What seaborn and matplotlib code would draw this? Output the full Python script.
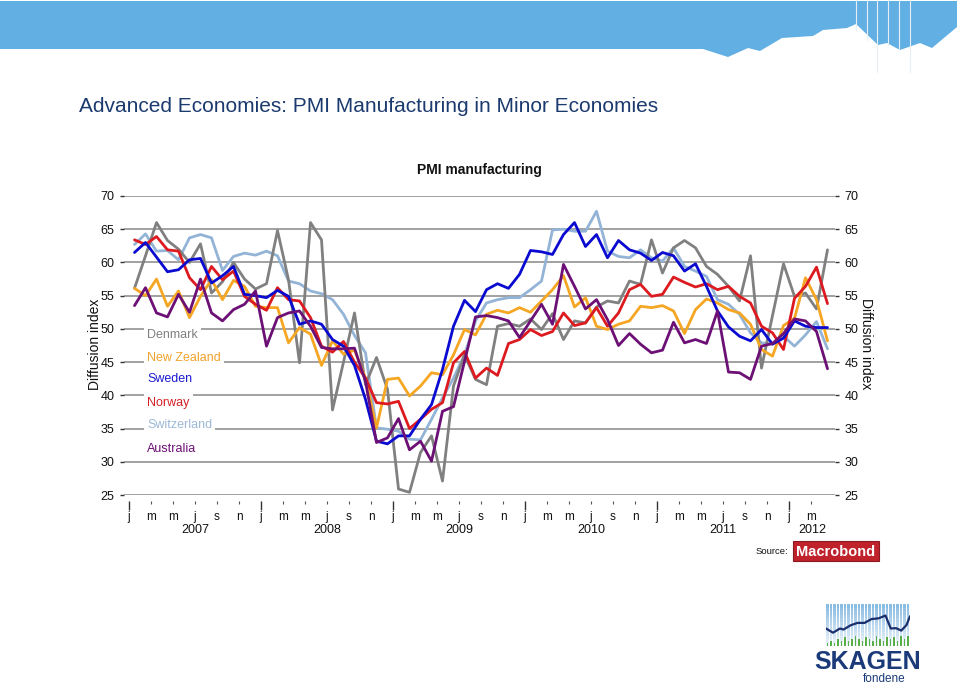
import numpy as np
import pandas as pd
import matplotlib
matplotlib.use("Agg")
import matplotlib.pyplot as plt
import seaborn as sns
from matplotlib.patches import Polygon, Rectangle

# ---------------- data (monthly, Jan 2007 .. Apr 2012) ----------------
start_month = "2007-01"
denmark = [56.1, 61.0, 66.0, 63.3, 62.0, 60.0, 62.8, 55.4, 57.1, 60.0, 57.5, 56.0,
           56.8, 64.8, 57.4, 44.9, 66.0, 63.4, 37.8, 45.0, 52.4, 41.6, 45.7, 40.9,
           25.9, 25.4, 31.4, 33.9, 27.1, 41.4, 46.1, 42.4, 41.6, 50.4, 50.8, 50.4,
           51.5, 49.9, 52.3, 48.4, 51.2, 50.9, 53.3, 54.2, 53.9, 57.2, 56.7, 63.4,
           58.4, 62.2, 63.3, 62.2, 59.4, 58.2, 56.4, 54.2, 61.0, 44.1, 52.0, 59.8,
           54.9, 55.4, 53.0, 61.9]
new_zealand = [56.1, 55.0, 57.5, 53.4, 55.7, 51.7, 54.9, 57.4, 54.4, 57.3, 56.4, 53.4,
               53.2, 53.2, 47.9, 50.2, 49.2, 44.5, 48.2, 46.2, 46.8, 42.6, 35.1, 42.4,
               42.6, 39.9, 41.4, 43.4, 43.1, 46.1, 49.9, 49.1, 52.2, 52.8, 52.4, 53.2,
               52.5, 54.2, 55.9, 58.0, 53.3, 54.7, 50.4, 49.9, 50.7, 51.2, 53.4, 53.2,
               53.5, 52.7, 49.3, 52.9, 54.5, 53.9, 52.9, 52.4, 50.7, 46.9, 45.9, 50.5,
               51.6, 57.7, 54.4, 48.2]
sweden = [61.5, 63.0, 60.8, 58.6, 58.9, 60.4, 60.6, 56.9, 58.0, 59.4, 55.2, 55.0,
          54.7, 55.8, 54.9, 50.7, 51.2, 50.7, 48.4, 47.4, 44.5, 39.4, 33.1, 32.7,
          33.9, 33.9, 36.4, 38.6, 43.9, 50.4, 54.3, 52.6, 55.9, 56.8, 56.1, 58.2,
          61.8, 61.6, 61.2, 64.2, 66.0, 62.4, 64.2, 60.7, 63.3, 61.9, 61.4, 60.3,
          61.5, 61.0, 58.7, 59.8, 56.4, 52.7, 50.3, 48.9, 48.2, 49.9, 47.7, 48.6,
          51.2, 50.4, 50.2, 50.2]
norway = [63.4, 62.7, 63.9, 61.9, 61.7, 57.7, 55.9, 59.4, 57.4, 58.7, 54.9, 53.7,
          52.8, 56.2, 54.4, 54.2, 51.7, 47.4, 46.5, 48.1, 45.0, 42.6, 38.9, 38.7,
          39.1, 35.0, 36.4, 37.9, 38.9, 44.9, 46.6, 42.6, 44.1, 43.0, 47.8, 48.4,
          49.9, 49.0, 49.6, 52.4, 50.5, 50.9, 53.2, 50.4, 52.4, 55.9, 56.7, 54.9,
          55.2, 57.8, 57.0, 56.3, 56.8, 55.9, 56.4, 54.9, 53.9, 50.4, 49.4, 46.9,
          54.6, 56.4, 59.3, 53.8]
switzerland = [62.7, 64.3, 61.7, 61.8, 60.4, 63.7, 64.2, 63.7, 58.8, 60.9, 61.4, 61.1,
               61.7, 61.0, 57.2, 56.8, 55.7, 55.3, 54.4, 52.2, 49.0, 46.4, 35.1, 34.9,
               34.6, 33.4, 33.3, 36.4, 39.6, 42.6, 46.1, 51.2, 53.9, 54.4, 54.7, 54.7,
               55.9, 57.2, 64.9, 65.0, 64.7, 64.7, 67.7, 61.7, 60.9, 60.7, 61.9, 60.7,
               60.2, 62.2, 59.4, 58.7, 57.9, 54.4, 53.7, 52.2, 49.4, 47.9, 47.7, 48.9,
               47.4, 49.1, 51.1, 47.0]
australia = [53.5, 56.2, 52.4, 51.8, 55.2, 52.5, 57.5, 52.4, 51.2, 52.9, 53.7, 55.7,
             47.4, 51.7, 52.4, 52.7, 50.4, 47.2, 47.0, 47.0, 47.1, 42.1, 32.9, 33.6,
             36.5, 31.8, 33.1, 30.1, 37.6, 38.3, 45.1, 51.8, 52.0, 51.7, 51.2, 48.7,
             51.2, 53.7, 50.7, 59.7, 56.4, 53.0, 54.4, 51.4, 47.5, 49.3, 47.7, 46.4,
             46.8, 51.0, 47.9, 48.4, 47.8, 52.7, 43.5, 43.4, 42.4, 47.4, 47.8, 49.3,
             51.5, 51.2, 49.6, 44.0]

countries = ["Denmark", "New Zealand", "Sweden", "Norway", "Switzerland", "Australia"]
series = [denmark, new_zealand, sweden, norway, switzerland, australia]
line_colors = ["#808080", "#f5a623", "#0a0ad0", "#dc1a1f", "#93b4d6", "#6c1076"]
label_colors = ["#808080", "#f2a22a", "#1a1ad0", "#d41f26", "#9cb8d6", "#6c1076"]
draw_order = ["Switzerland", "Denmark", "New Zealand", "Norway", "Sweden", "Australia"]

month_letters = ["j", "m", "m", "j", "s", "n"]
years = ["2007", "2008", "2009", "2010", "2011", "2012"]
y_ticks = [25, 30, 35, 40, 45, 50, 55, 60, 65, 70]

# ---------------- frame ----------------
n = len(denmark)
month_idx = np.arange(n)
long = pd.concat([pd.DataFrame({"t": month_idx + 0.5, "value": v, "country": c})
                  for c, v in zip(countries, series)], ignore_index=True)
palette = dict(zip(countries, line_colors))

sns.set_theme(style="white")
plt.rcParams["font.family"] = ["Liberation Sans", "DejaVu Sans"]

W, H = 960, 686
fig = plt.figure(figsize=(W / 100, H / 100), dpi=100)
fig.patch.set_facecolor("white")

# top banner
banner = [(0, 1), (957, 1), (957, 27), (932, 48), (920, 43), (900, 50), (887, 43),
          (878, 45), (856, 24), (847, 28), (823, 30), (813, 36), (782, 38), (760, 51),
          (748, 48), (728, 57), (703, 49), (0, 49)]
fig.patches.append(Polygon([(x / W, 1 - y / H) for x, y in banner], closed=True,
                           transform=fig.transFigure, facecolor="#62afe3", edgecolor="none"))
for xv, ybot in [(856, 30), (867, 40), (877, 72), (888, 45), (899, 50), (910, 72)]:
    fig.add_artist(plt.Line2D([xv / W, xv / W], [1 - 1 / H, 1 - ybot / H],
                              transform=fig.transFigure, color="#e8eef4", lw=0.8))

fig.text(79 / W, 1 - 106 / H, "Advanced Economies: PMI Manufacturing in Minor Economies",
         fontsize=15, color="#1b3a6e", ha="left", va="center")

# ---------------- main axes ----------------
ax = fig.add_axes([124 / W, 1 - 495 / H, 711 / W, 299 / H])
sns.lineplot(data=long, x="t", y="value", hue="country", hue_order=draw_order,
             palette=palette, linewidth=2.0, legend=False, ax=ax)

x_left, x_right = (124 - 129) / 11, (835 - 129) / 11
ax.set_xlim(x_left, x_right)
ax.set_ylim(25, 70)
ax.set_yticks(y_ticks)
ax.set_yticklabels([str(v) for v in y_ticks])
ax.grid(axis="y", color="#9a9a9a", lw=1.3)
ax.grid(axis="x", visible=False)
ax.set_xlabel("")
ax.set_ylabel("")
for s in ["left", "right", "top"]:
    ax.spines[s].set_visible(False)
ax.spines["bottom"].set_position(("outward", 4))
ax.spines["bottom"].set_visible(False)

ax.yaxis.set_ticks_position("both")
ax.tick_params(axis="y", which="major", left=True, right=True, labelleft=True,
               labelright=True, length=3, width=1, color="#333333", pad=4,
               labelsize=9, labelcolor="#111111")

major_x = list(range(0, n, 12))
minor_x = [m for m in range(0, n, 2) if m % 12 != 0]
ax.set_xticks(major_x)
ax.set_xticklabels([month_letters[0]] * len(major_x))
ax.set_xticks(minor_x, minor=True)
ax.set_xticklabels([month_letters[(m % 12) // 2] for m in minor_x], minor=True)
ax.tick_params(axis="x", which="major", bottom=True, length=6.5, width=1,
               color="#333333", pad=1.2, labelsize=8.5, labelcolor="#111111")
ax.tick_params(axis="x", which="minor", bottom=True, length=2, width=0.8,
               color="#555555", pad=5.7, labelsize=8.5, labelcolor="#111111")

for k, yr in enumerate(years):
    y0 = 12 * k
    xc = min(y0 + 6, (y0 + x_right) / 2)
    ax.text(xc, -0.118, yr, transform=ax.get_xaxis_transform(),
            ha="center", va="center", fontsize=9, color="#111111")

ax.set_title("PMI manufacturing", fontsize=10, fontweight="bold", pad=16, color="#111111")

fig.text(95 / W, 1 - 344 / H, "Diffusion index", rotation=90, ha="center", va="center",
         fontsize=10, color="#111111")
fig.text(866 / W, 1 - 344 / H, "Diffusion index", rotation=-90, ha="center", va="center",
         fontsize=10, color="#111111")

# legend as coloured labels
label_y = [335, 358, 379, 403, 425, 449]
for c, col, py in zip(countries, label_colors, label_y):
    ax.text((147 - 124) / 711, (495 - py) / 299, c, transform=ax.transAxes,
            ha="left", va="center", fontsize=9, color=col,
            bbox=dict(boxstyle="square,pad=0.25", facecolor="white", edgecolor="none"))

# source: Macrobond
fig.text(788 / W, 1 - 551 / H, "Source:", ha="right", va="center", fontsize=6.8,
         color="#111111")
fig.patches.append(Rectangle((793 / W, 1 - 561 / H), 86 / W, 20 / H,
                             transform=fig.transFigure, facecolor="#c0222c",
                             edgecolor="#8a1a1f", lw=0.8))
fig.text(836 / W, 1 - 551.5 / H, "Macrobond", ha="center", va="center", fontsize=10.5,
         fontweight="bold", color="white")

# SKAGEN logo
lax = fig.add_axes([826 / W, 1 - 646 / H, 84 / W, 42 / H])
lax.set_xlim(0, 24)
lax.set_ylim(0, 12)
lax.axis("off")
for i in range(24):
    for j in range(12):
        a = 0.15 + 0.75 * (j / 11)
        lax.add_patch(Rectangle((i + 0.1, j), 0.65, 1, facecolor="#7fb5df",
                                edgecolor="none", alpha=a))
green_h = [1, 1.5, 1, 2, 1.5, 2.5, 1.5, 2, 3, 2, 1.5, 2.5, 2, 1.5, 3, 2, 1.5, 2.5, 2, 2.5,
           1.5, 3, 2, 3]
for i, h in enumerate(green_h):
    lax.add_patch(Rectangle((i + 0.15, 0), 0.5, h, facecolor="#5aae4a", edgecolor="none"))
logo_line_x = [0, 2, 4, 5, 7, 9, 11, 13, 15, 17, 18.5, 20, 21.5, 23, 24]
logo_line_y = [5, 3.8, 5, 4.7, 5.9, 6.6, 6.6, 7.7, 7.9, 8.7, 5.0, 5.1, 4.4, 6.0, 8.5]
lax.plot(logo_line_x, logo_line_y, color="#1b2f6e", lw=1.6)

fig.text(868 / W, 1 - 662 / H, "SKAGEN", ha="center", va="center", fontsize=18,
         fontweight="bold", color="#1b3a7a")
fig.text(884 / W, 1 - 679 / H, "fondene", ha="center", va="center", fontsize=8.5,
         color="#1b3a7a")

fig.savefig("out.png", dpi=100, facecolor="white")
